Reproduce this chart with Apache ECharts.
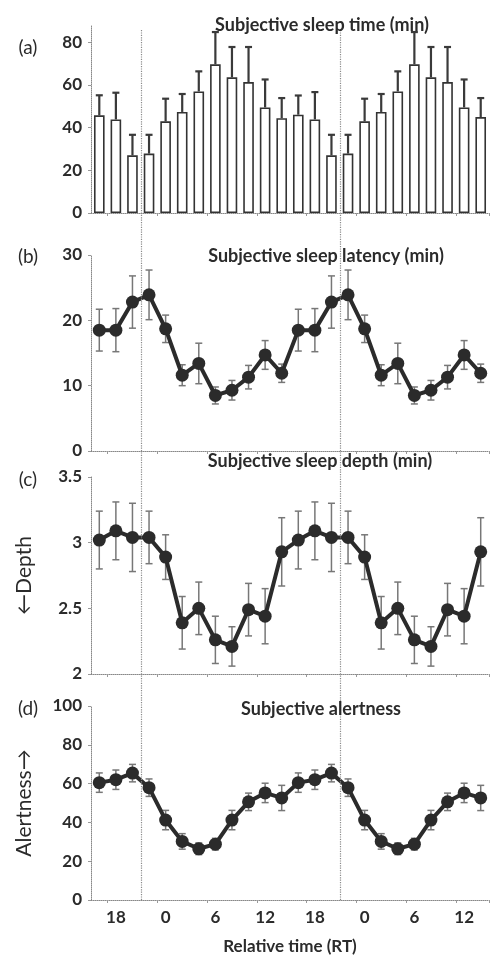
<!DOCTYPE html>
<html>
<head>
<meta charset="utf-8">
<script src="https://cdn.jsdelivr.net/npm/echarts@6/dist/echarts.min.js"></script>
<style>
  html, body { margin: 0; padding: 0; background: #fff; }
  #main { width: 492px; height: 958px; }
</style>
</head>
<body>
<div id="main"></div>
<script>
// relative time of each 2-h slot (double plotted)
var times = [16, 18, 20, 22, 0, 2, 4, 6, 8, 10, 12, 14, 16, 18, 20, 22, 0, 2, 4, 6, 8, 10, 12, 14];
// dotted reference lines, in slot boundaries
var refLines = [3, 15];

// (a) subjective sleep time, mean and upper error
var sleepTime = [45.7, 43.8, 27.0, 27.8, 42.9, 47.3, 56.9, 69.6, 63.5, 61.3, 49.4, 44.4,
                 46.0, 43.8, 27.0, 27.8, 42.9, 47.3, 56.9, 69.6, 63.5, 61.3, 49.4, 44.9];
var sleepTimeErr = [9.4, 12.5, 9.6, 8.8, 10.6, 8.4, 9.4, 15.1, 14.2, 16.4, 13.1, 9.4,
                    9.0, 12.8, 9.6, 8.8, 10.6, 8.4, 9.4, 15.1, 14.2, 16.4, 13.1, 8.9];

// (b) subjective sleep latency
var latency = [18.5, 18.5, 22.8, 23.9, 18.7, 11.6, 13.4, 8.5, 9.3, 11.3, 14.7, 11.9,
               18.5, 18.5, 22.8, 23.9, 18.7, 11.6, 13.4, 8.5, 9.3, 11.3, 14.7, 11.9];
var latencyErr = [3.2, 3.3, 4.0, 3.8, 2.1, 1.6, 3.1, 1.3, 1.5, 1.8, 2.2, 1.4,
                  3.2, 3.3, 4.0, 3.8, 2.1, 1.6, 3.1, 1.3, 1.5, 1.8, 2.2, 1.4];

// (c) subjective sleep depth
var depth = [3.02, 3.09, 3.04, 3.04, 2.89, 2.39, 2.50, 2.26, 2.21, 2.49, 2.44, 2.93,
             3.02, 3.09, 3.04, 3.04, 2.89, 2.39, 2.50, 2.26, 2.21, 2.49, 2.44, 2.93];
var depthErr = [0.22, 0.22, 0.26, 0.20, 0.17, 0.20, 0.20, 0.18, 0.15, 0.20, 0.21, 0.26,
                0.22, 0.22, 0.26, 0.20, 0.17, 0.20, 0.20, 0.18, 0.15, 0.20, 0.21, 0.26];

// (d) subjective alertness
var alertness = [60.5, 62.0, 65.4, 57.9, 41.2, 30.2, 26.4, 28.8, 41.2, 50.6, 55.2, 52.6,
                 60.5, 62.0, 65.4, 57.9, 41.2, 30.2, 26.4, 28.8, 41.2, 50.6, 55.2, 52.6];
var alertnessErr = [5.0, 5.0, 4.5, 4.5, 5.0, 4.0, 3.0, 3.0, 5.0, 4.5, 5.0, 6.5,
                    5.0, 5.0, 4.5, 4.5, 5.0, 4.0, 3.0, 3.0, 5.0, 4.5, 5.0, 6.5];

var FONT = 'Lato, "Open Sans", sans-serif';
var INK = '#2b2b2b';
var chart = echarts.init(document.getElementById('main'));

var grids = [
    { left: 91, right: 3, top: 25, bottom: 745 },
    { left: 91, right: 3, top: 255, bottom: 507 },
    { left: 91, right: 3, top: 477, bottom: 284 },
    { left: 91, right: 3, top: 706, bottom: 58 },
    { left: 91, right: 3, top: 29, bottom: 58 }   // overlay for the reference lines
];

function catAxis(i, showLabels) {
    return {
        type: 'category', gridIndex: i, data: times.map(String),
        axisLine: { lineStyle: { color: '#888', type: 'dotted', width: 1 } },
        axisTick: { show: true, length: 3, inside: false, lineStyle: { color: '#999' } },
        axisLabel: {
            show: showLabels, margin: 9, color: INK, fontFamily: FONT, fontWeight: 'bold', fontSize: 17,
            interval: function (idx) { return idx % 3 === 1; }
        },
        name: showLabels ? 'Relative time (RT)' : '',
        nameLocation: 'middle', nameGap: 38,
        nameTextStyle: { color: INK, fontFamily: FONT, fontWeight: 'bold', fontSize: 17 }
    };
}

function valAxis(i, min, max, interval, name, fmt) {
    return {
        type: 'value', gridIndex: i, min: min, max: max, interval: interval,
        splitLine: { show: false },
        axisLine: { show: true, lineStyle: { color: '#888', type: 'dotted', width: 1 } },
        axisTick: { show: true, length: 3, lineStyle: { color: '#999' } },
        axisLabel: {
            margin: 9, color: INK, fontFamily: FONT, fontWeight: 'bold', fontSize: 17,
            showMaxLabel: max % interval === 0 ? true : false,
            formatter: fmt
        },
        name: name, nameLocation: 'middle', nameGap: 56, nameRotate: 90,
        nameTextStyle: { color: INK, fontFamily: FONT, fontSize: 21 }
    };
}

function errData(mean, err, upperOnly) {
    return mean.map(function (v, k) {
        return [k, v, upperOnly ? v : v - err[k], v + err[k]];
    });
}

function errSeries(i, mean, err, upperOnly, color, w) {
    return {
        type: 'custom', xAxisIndex: i, yAxisIndex: i, z: 3,
        data: errData(mean, err, upperOnly),
        encode: { x: 0, y: [2, 3] },
        renderItem: function (params, api) {
            var x = api.value(0);
            var lo = api.coord([x, api.value(2)]);
            var hi = api.coord([x, api.value(3)]);
            var cap = 3.5;
            var st = { stroke: color, lineWidth: w };
            var kids = [
                { type: 'line', shape: { x1: lo[0], y1: lo[1], x2: hi[0], y2: hi[1] }, style: st },
                { type: 'line', shape: { x1: hi[0] - cap, y1: hi[1], x2: hi[0] + cap, y2: hi[1] }, style: st }
            ];
            if (!upperOnly) {
                kids.push({ type: 'line', shape: { x1: lo[0] - cap, y1: lo[1], x2: lo[0] + cap, y2: lo[1] }, style: st });
            }
            return { type: 'group', children: kids };
        }
    };
}

function lineSeries(i, data) {
    return {
        type: 'line', xAxisIndex: i, yAxisIndex: i, data: data, z: 4,
        symbol: 'circle', symbolSize: 13, showAllSymbol: true,
        lineStyle: { color: INK, width: 4 },
        itemStyle: { color: INK }
    };
}

function titleAt(text, x, y, bold, size) {
    return {
        text: text, left: x, top: y, textAlign: 'center',
        textStyle: { fontFamily: FONT, fontWeight: bold ? 'bold' : 'normal', fontSize: size, color: INK }
    };
}

var option = {
    animation: false,
    backgroundColor: '#fff',
    title: [
        titleAt('Subjective sleep time (min)', 317, 11, true, 18),
        titleAt('Subjective sleep latency (min)', 321, 242, true, 18),
        titleAt('Subjective sleep depth (min)', 315, 447, true, 18),
        titleAt('Subjective alertness', 316, 695, true, 18),
        titleAt('(a)', 23, 33, false, 19),
        titleAt('(b)', 23, 242, false, 19),
        titleAt('(c)', 23, 465, false, 19),
        titleAt('(d)', 23, 694, false, 19)
    ],
    grid: grids,
    xAxis: [
        catAxis(0, false), catAxis(1, false), catAxis(2, false), catAxis(3, true),
        { type: 'value', gridIndex: 4, min: 0, max: 24, show: false }
    ],
    yAxis: [
        valAxis(0, 0, 88, 20, ''),
        valAxis(1, 0, 30, 10, ''),
        valAxis(2, 2, 3.5, 0.5, '\u2190Depth', function (v) { return v % 1 === 0 ? String(v) : v.toFixed(1); }),
        valAxis(3, 0, 100, 20, 'Alertness\u2192'),
        { type: 'value', gridIndex: 4, min: 0, max: 1, show: false }
    ],
    series: [
        {
            type: 'line', xAxisIndex: 4, yAxisIndex: 4, data: [[0, 0]], z: 1,
            showSymbol: false, lineStyle: { opacity: 0 },
            markLine: {
                silent: true, symbol: 'none', label: { show: false },
                lineStyle: { color: '#8a8a8a', type: 'dotted', width: 1.2 },
                data: refLines.map(function (v) { return { xAxis: v }; })
            }
        },
        {
            type: 'bar', xAxisIndex: 0, yAxisIndex: 0, data: sleepTime, z: 2,
            barWidth: '64%',
            itemStyle: { color: '#fff', borderColor: '#333', borderWidth: 1.6 }
        },
        errSeries(0, sleepTime, sleepTimeErr, true, '#3a3a3a', 2.2),
        errSeries(1, latency, latencyErr, false, '#777', 1.5),
        lineSeries(1, latency),
        errSeries(2, depth, depthErr, false, '#777', 1.5),
        lineSeries(2, depth),
        errSeries(3, alertness, alertnessErr, false, '#777', 1.5),
        lineSeries(3, alertness)
    ]
};

chart.setOption(option);
</script>
</body>
</html>
